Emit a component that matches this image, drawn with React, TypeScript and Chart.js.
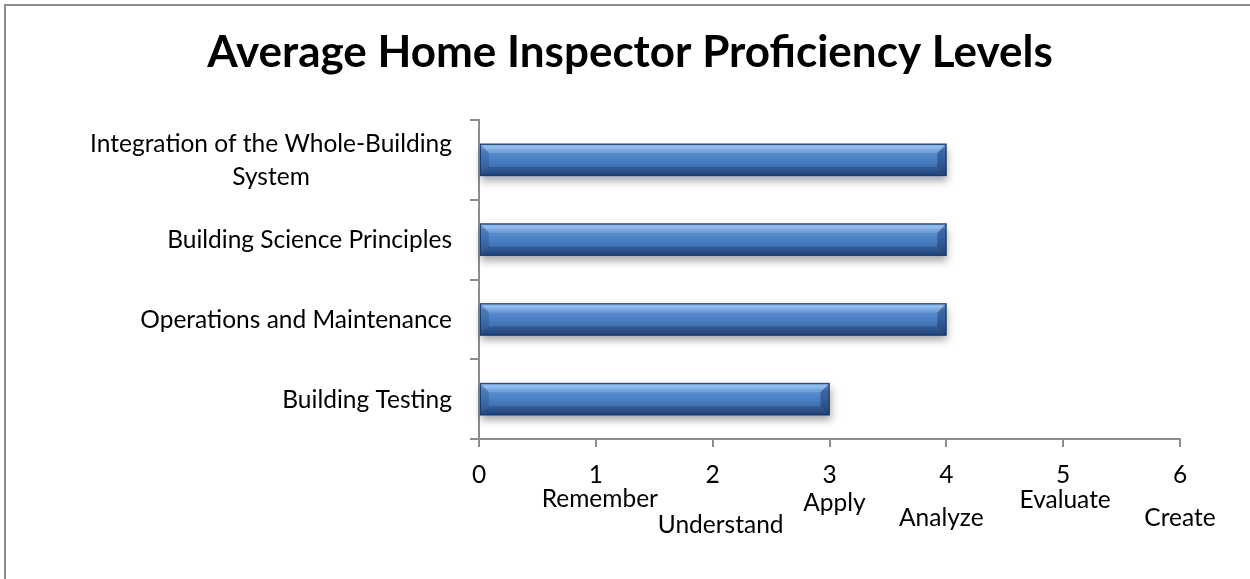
import React, { useEffect, useRef } from 'react';
import { Chart, registerables } from 'chart.js';

Chart.register(...registerables);

// ---- data ----
const chartTitle = 'Average Home Inspector Proficiency Levels';
const categories: (string | string[])[] = [
  ['Integration of the Whole-Building', 'System'],
  'Building Science Principles',
  'Operations and Maintenance',
  'Building Testing',
];
const proficiency = [4, 4, 4, 3];
const xMin = 0;
const xMax = 6;
const levelValues = [1, 2, 3, 4, 5, 6];
const levelNames = ['Remember', 'Understand', 'Apply', 'Analyze', 'Evaluate', 'Create'];

// ---- layout (not data) ----
const FONT = 'Lato, "Open Sans", sans-serif';
const AXIS_FONT_SIZE = 24.5;
const levelLayout = [
  { dx: 4, dy: 68 },
  { dx: 8, dy: 94 },
  { dx: 5, dy: 72 },
  { dx: -5, dy: 87 },
  { dx: 2, dy: 69 },
  { dx: 0, dy: 87 },
];

const framePlugin = {
  id: 'frame',
  beforeDraw(chart: any) {
    const ctx = chart.ctx;
    ctx.save();
    ctx.fillStyle = '#ffffff';
    ctx.fillRect(0, 0, chart.width, chart.height);
    ctx.strokeStyle = '#8c8c8c';
    ctx.lineWidth = 2;
    ctx.strokeRect(5, 5, chart.width + 10, chart.height + 10);
    // title
    ctx.fillStyle = '#000000';
    ctx.font = `bold 44px ${FONT}`;
    ctx.textAlign = 'center';
    ctx.textBaseline = 'alphabetic';
    ctx.fillText(chartTitle, 630, 67);
    ctx.restore();
  },
};

const categoryLabelPlugin = {
  id: 'catLabels',
  afterDraw(chart: any) {
    const ctx = chart.ctx;
    const ys = chart.scales.y;
    const right = chart.chartArea.left - 27;
    const lineH = 33;
    ctx.save();
    ctx.fillStyle = '#000000';
    ctx.font = `${AXIS_FONT_SIZE}px ${FONT}`;
    ctx.textAlign = 'center';
    ctx.textBaseline = 'alphabetic';
    categories.forEach((lab, i) => {
      const lines = Array.isArray(lab) ? lab : [lab];
      const w = Math.max(...lines.map((l) => ctx.measureText(l).width));
      const cx = right - w / 2;
      const cy = ys.getPixelForValue(i);
      const y0 = cy - ((lines.length - 1) * lineH) / 2;
      lines.forEach((l, k) => {
        ctx.fillText(l, cx, y0 + k * lineH + 8.5);
      });
    });
    ctx.restore();
  },
};

const levelPlugin = {
  id: 'levels',
  afterDraw(chart: any) {
    const ctx = chart.ctx;
    const xs = chart.scales.x;
    const axisY = chart.chartArea.bottom;
    ctx.save();
    ctx.fillStyle = '#000000';
    ctx.font = `${AXIS_FONT_SIZE}px ${FONT}`;
    ctx.textAlign = 'center';
    ctx.textBaseline = 'alphabetic';
    levelNames.forEach((name, i) => {
      const lay = levelLayout[i];
      const px = xs.getPixelForValue(levelValues[i]) + lay.dx;
      ctx.fillText(name, px, axisY + lay.dy);
    });
    ctx.restore();
  },
};

function poly(ctx: any, pts: number[][]) {
  ctx.beginPath();
  ctx.moveTo(pts[0][0], pts[0][1]);
  for (let i = 1; i < pts.length; i++) ctx.lineTo(pts[i][0], pts[i][1]);
  ctx.closePath();
  ctx.fill();
}

const bevelPlugin = {
  id: 'bevel',
  beforeDatasetsDraw(chart: any) {
    const ctx = chart.ctx;
    const meta = chart.getDatasetMeta(0);
    ctx.save();
    ctx.shadowColor = 'rgba(0,0,0,0.35)';
    ctx.shadowBlur = 8;
    ctx.shadowOffsetY = 5;
    ctx.shadowOffsetX = 1;
    ctx.fillStyle = '#3a6aa8';
    meta.data.forEach((el: any) => {
      const p = el.getProps(['x', 'y', 'base', 'height'], true);
      const L = Math.min(p.base, p.x), R = Math.max(p.base, p.x);
      ctx.fillRect(L, p.y - p.height / 2, R - L, p.height);
    });
    ctx.restore();
  },
  afterDatasetsDraw(chart: any) {
    const ctx = chart.ctx;
    const meta = chart.getDatasetMeta(0);
    ctx.save();
    meta.data.forEach((el: any) => {
      const p = el.getProps(['x', 'y', 'base', 'height'], true);
      const L = Math.min(p.base, p.x), R = Math.max(p.base, p.x);
      const T = p.y - p.height / 2, B = p.y + p.height / 2;
      const b = 9;
      const g = ctx.createLinearGradient(0, T, 0, B);
      g.addColorStop(0, '#5f97d8');
      g.addColorStop(0.1, '#80b3ec');
      g.addColorStop(0.22, '#5b91d3');
      g.addColorStop(0.5, '#4a80c3');
      g.addColorStop(0.78, '#3c6cab');
      g.addColorStop(1, '#2b4f86');
      ctx.fillStyle = g;
      ctx.fillRect(L, T, R - L, B - T);
      // left face
      ctx.fillStyle = 'rgba(20,50,100,0.22)';
      poly(ctx, [[L, T], [L + b, T + b], [L + b, B - b], [L, B]]);
      // right face
      ctx.fillStyle = 'rgba(10,30,70,0.35)';
      poly(ctx, [[R, T], [R - b, T + b], [R - b, B - b], [R, B]]);
      // top face
      ctx.fillStyle = 'rgba(255,255,255,0.16)';
      poly(ctx, [[L, T], [R, T], [R - b, T + b], [L + b, T + b]]);
      // bottom face
      ctx.fillStyle = 'rgba(0,20,60,0.22)';
      poly(ctx, [[L, B], [R, B], [R - b, B - b], [L + b, B - b]]);
      ctx.strokeStyle = 'rgba(25,55,100,0.9)';
      ctx.lineWidth = 1;
      ctx.strokeRect(L + 0.5, T + 0.5, R - L - 1, B - T - 1);
    });
    ctx.restore();
  },
};

export default function App() {
  const ref = useRef<HTMLCanvasElement | null>(null);

  useEffect(() => {
    document.body.style.margin = '0';
    const canvas = ref.current;
    if (!canvas) return;
    const chart = new Chart(canvas, {
      type: 'bar',
      data: {
        labels: categories,
        datasets: [
          {
            data: proficiency,
            backgroundColor: '#4a7fc1',
            borderWidth: 0,
            barThickness: 32,
          },
        ],
      },
      options: {
        indexAxis: 'y',
        responsive: false,
        animation: false,
        devicePixelRatio: 1,
        layout: { padding: { left: 0, right: 70, top: 120, bottom: 0 } },
        plugins: {
          legend: { display: false },
          tooltip: { enabled: false },
          title: { display: false },
        },
        scales: {
          x: {
            type: 'linear',
            min: xMin,
            max: xMax,
            afterFit(scale: any) {
              scale.height = 140;
            },
            ticks: {
              stepSize: 1,
              color: '#000000',
              font: { family: FONT, size: AXIS_FONT_SIZE },
              padding: 13,
              maxRotation: 0,
            },
            grid: {
              drawOnChartArea: false,
              drawTicks: true,
              tickLength: 8,
              color: '#8c8c8c',
              lineWidth: 2,
            },
            border: { color: '#8c8c8c', width: 2 },
          },
          y: {
            type: 'category',
            afterFit(scale: any) {
              scale.width = 479;
            },
            ticks: {
              display: false,
            },
            grid: {
              drawOnChartArea: false,
              drawTicks: true,
              tickLength: 9,
              color: '#8c8c8c',
              lineWidth: 2,
              offset: true,
            },
            border: { color: '#8c8c8c', width: 2 },
          },
        },
      },
      plugins: [framePlugin, bevelPlugin, categoryLabelPlugin, levelPlugin],
    } as any);
    return () => chart.destroy();
  }, []);

  return (
    <div style={{ width: 1250, height: 579 }}>
      <canvas ref={ref} width={1250} height={579} style={{ display: 'block' }} />
    </div>
  );
}
